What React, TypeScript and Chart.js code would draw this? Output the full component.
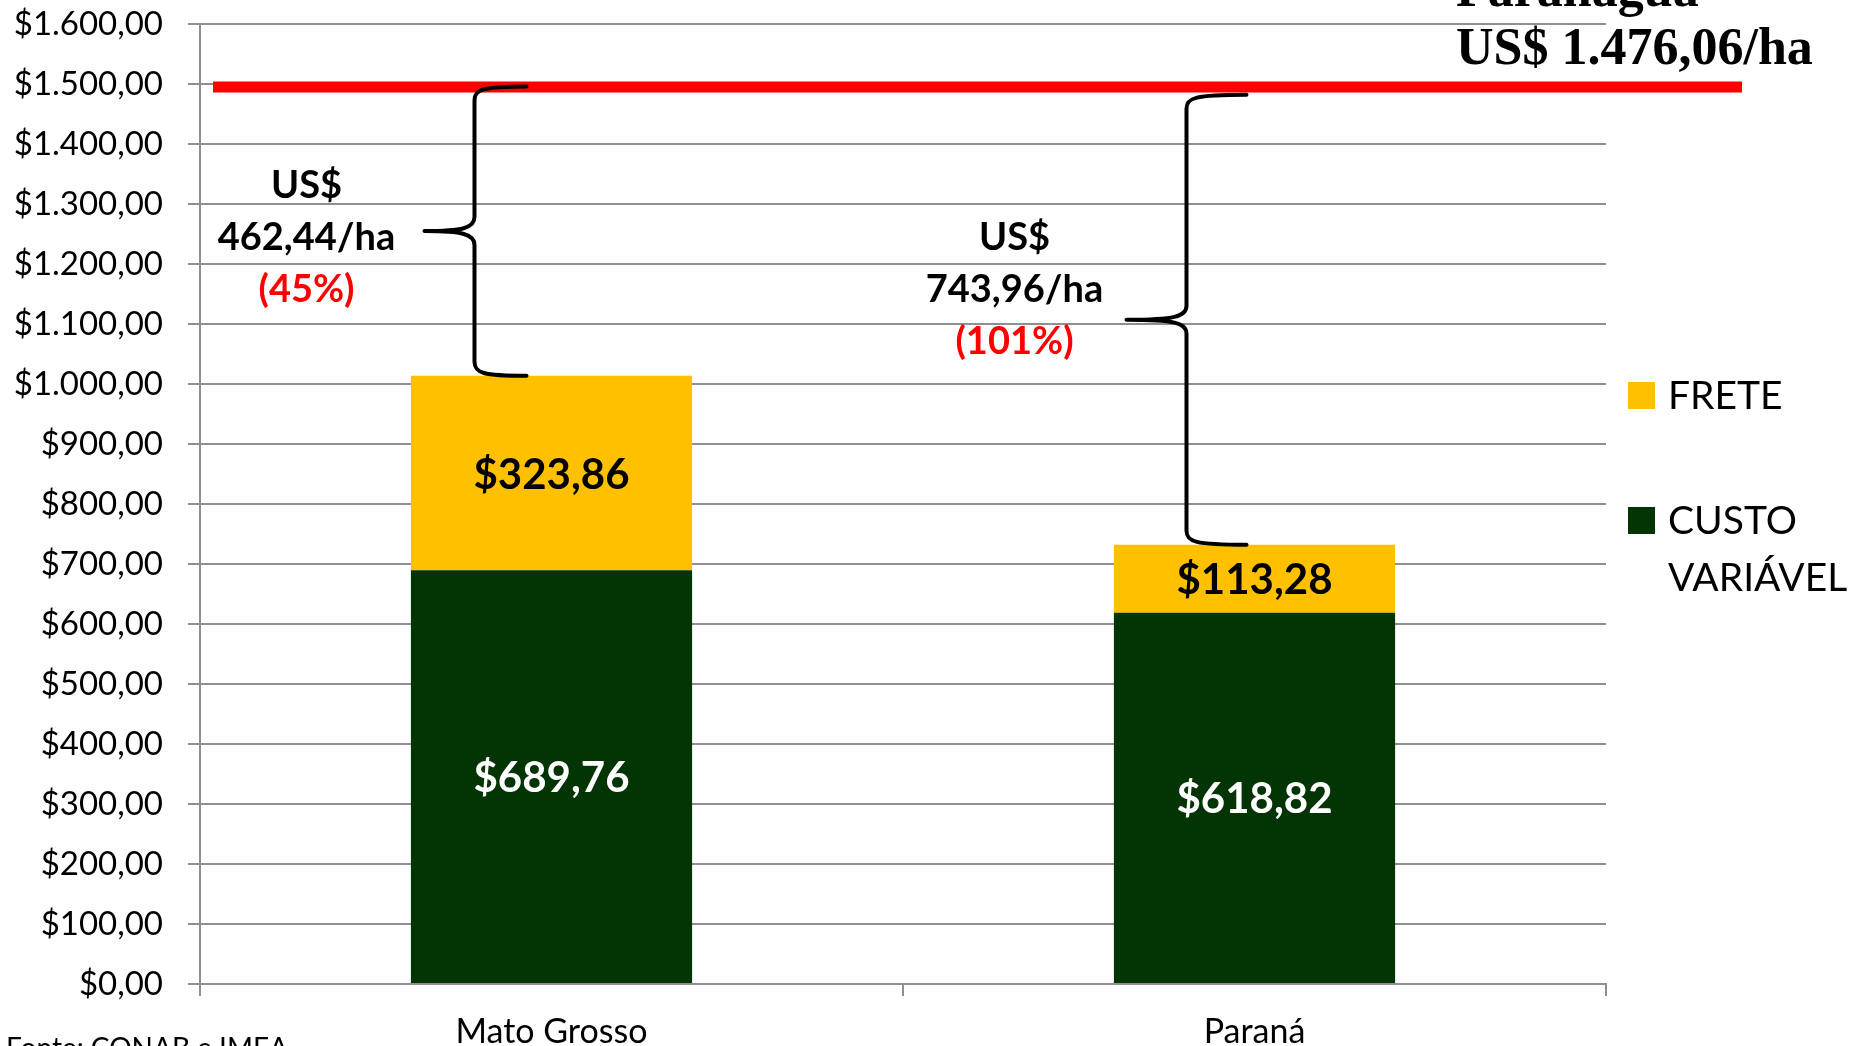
import React, { useEffect, useRef } from "react";
import { Chart, registerables } from "chart.js";

Chart.register(...registerables);

const CATEGORIES = ["Mato Grosso", "Paraná"];
const CUSTO_VARIAVEL = [689.76, 618.82];
const FRETE = [323.86, 113.28];
const SERIES_LABELS = ["CUSTO VARIÁVEL", "FRETE"];
const LEGEND_LINES = [["FRETE"], ["CUSTO", "VARIÁVEL"]];
const Y_MIN = 0;
const Y_MAX = 1600;
const Y_STEP = 100;
const LIMIT_LINE_VALUE = 1495;
const BRACE_TOP_VALUES = [1496, 1482];
const GAP_LABELS = [
  ["US$", "462,44/ha", "(45%)"],
  ["US$", "743,96/ha", "(101%)"],
];
const GAP_LABEL_VALUES = [1243, 1157];
const TITLE_LINES = ["Paranaguá", "US$ 1.476,06/ha"];
const SOURCE_TEXT = "Fonte: CONAB e IMEA";

const GREEN = "#033403";
const YELLOW = "#FFC000";
const GRID = "#8f8f8f";
const FONT = "Lato";

const BRACE_STYLE = [
  { endDx: -25, vertDx: -77, tipDx: -127, textDx: -245 },
  { endDx: -8, vertDx: -68, tipDx: -128, textDx: -240 },
];

function fmtBR(v: number): string {
  const [i, d] = v.toFixed(2).split(".");
  return "$" + i.replace(/\B(?=(\d{3})+(?!\d))/g, ".") + "," + d;
}

function drawBrace(ctx: CanvasRenderingContext2D, xe: number, xv: number, xt: number, yt: number, yb: number) {
  const ym = (yt + yb) / 2;
  const r = 14;
  ctx.beginPath();
  ctx.moveTo(xe, yt);
  ctx.bezierCurveTo(xv + 8, yt, xv, yt + 3, xv, yt + r);
  ctx.lineTo(xv, ym - r);
  ctx.bezierCurveTo(xv, ym - 3, xv - 12, ym, xt, ym);
  ctx.moveTo(xt, ym);
  ctx.bezierCurveTo(xv - 12, ym, xv, ym + 3, xv, ym + r);
  ctx.lineTo(xv, yb - r);
  ctx.bezierCurveTo(xv, yb - 3, xv + 8, yb, xe, yb);
  ctx.stroke();
}

const overlayPlugin = {
  id: "overlay",
  afterDatasetsDraw(chart: any) {
    const ctx: CanvasRenderingContext2D = chart.ctx;
    const area = chart.chartArea;
    const y = chart.scales.y;
    ctx.save();

    // bar value labels
    chart.data.datasets.forEach((ds: any, di: number) => {
      const meta = chart.getDatasetMeta(di);
      meta.data.forEach((el: any, i: number) => {
        ctx.font = `bold 42px ${FONT}`;
        ctx.textAlign = "center";
        ctx.textBaseline = "middle";
        ctx.fillStyle = di === 0 ? "#ffffff" : "#000000";
        ctx.fillText(fmtBR(ds.data[i]), el.x, (el.y + el.base) / 2 + 2);
      });
    });

    // red limit line
    const ly = y.getPixelForValue(LIMIT_LINE_VALUE);
    ctx.strokeStyle = "#FF0000";
    ctx.lineWidth = 11;
    ctx.beginPath();
    ctx.moveTo(area.left + 13, ly);
    ctx.lineTo(area.right + 136, ly);
    ctx.stroke();

    // braces and gap labels
    const topMeta = chart.getDatasetMeta(1);
    topMeta.data.forEach((el: any, i: number) => {
      const s = BRACE_STYLE[i];
      const yt = y.getPixelForValue(BRACE_TOP_VALUES[i]);
      const yb = el.y;
      ctx.strokeStyle = "#000000";
      ctx.lineWidth = 4;
      ctx.lineCap = "round";
      drawBrace(ctx, el.x + s.endDx, el.x + s.vertDx, el.x + s.tipDx, yt, yb);
      const ty = y.getPixelForValue(GAP_LABEL_VALUES[i]);
      ctx.font = `bold 38px ${FONT}`;
      ctx.textAlign = "center";
      ctx.textBaseline = "middle";
      GAP_LABELS[i].forEach((t, k) => {
        ctx.fillStyle = k === 2 ? "#FF0000" : "#000000";
        ctx.fillText(t, el.x + s.textDx, ty + (k - 1) * 52);
      });
    });

    // legend
    const legendColors = [YELLOW, GREEN];
    const legendTops = [382, 507];
    LEGEND_LINES.forEach((lines, i) => {
      const top = legendTops[i];
      ctx.fillStyle = legendColors[i];
      ctx.fillRect(area.right + 22, top, 27, 27);
      ctx.fillStyle = "#000000";
      ctx.font = `39px ${FONT}`;
      ctx.textAlign = "left";
      ctx.textBaseline = "middle";
      lines.forEach((t, k) => {
        ctx.fillText(t, area.right + 62, top + 14 + k * 57);
      });
    });

    // title (top right)
    ctx.font = `bold 52px "Liberation Serif"`;
    ctx.textAlign = "left";
    ctx.textBaseline = "alphabetic";
    ctx.fillStyle = "#000000";
    ctx.fillText(TITLE_LINES[0], area.right - 150, 6);
    ctx.fillText(TITLE_LINES[1], area.right - 150, 64);

    // source
    ctx.font = `28px ${FONT}`;
    ctx.fillText(SOURCE_TEXT, 6, 1058);

    ctx.restore();
  },
};

export default function App() {
  const ref = useRef<HTMLCanvasElement | null>(null);
  useEffect(() => {
    if (!ref.current) return;
    const chart = new Chart(ref.current, {
      type: "bar",
      data: {
        labels: CATEGORIES,
        datasets: [
          { label: SERIES_LABELS[0], data: CUSTO_VARIAVEL, backgroundColor: GREEN, barPercentage: 0.5, categoryPercentage: 0.8 },
          { label: SERIES_LABELS[1], data: FRETE, backgroundColor: YELLOW, barPercentage: 0.5, categoryPercentage: 0.8 },
        ],
      },
      options: {
        responsive: false,
        animation: false,
        devicePixelRatio: 1,
        layout: { padding: { left: 0, right: 262, top: 24, bottom: 0 } },
        plugins: { legend: { display: false }, tooltip: { enabled: false } },
        scales: {
          x: {
            stacked: true,
            grid: { drawOnChartArea: false, drawTicks: true, tickLength: 12, color: GRID, lineWidth: 2 },
            border: { color: GRID, width: 2 },
            ticks: { color: "#000", font: { family: FONT, size: 34 }, padding: 16 },
            afterFit: (s: any) => { s.height = 62; s.paddingLeft = 0; s.paddingRight = 0; },
          },
          y: {
            stacked: true,
            min: Y_MIN,
            max: Y_MAX,
            ticks: { stepSize: Y_STEP, color: "#000", font: { family: FONT, size: 33 }, padding: 25, callback: (v: any) => fmtBR(Number(v)) },
            grid: { color: GRID, lineWidth: 2, tickLength: 12 },
            border: { color: GRID, width: 2 },
            afterFit: (s: any) => { s.width = 200; s.paddingTop = 0; s.paddingBottom = 0; },
          },
        },
      },
      plugins: [overlayPlugin],
    });
    return () => chart.destroy();
  }, []);
  return (
    <div style={{ position: "fixed", left: 0, top: 0, width: 1868, height: 1046, background: "#fff" }}>
      <canvas ref={ref} width={1868} height={1046} />
    </div>
  );
}
